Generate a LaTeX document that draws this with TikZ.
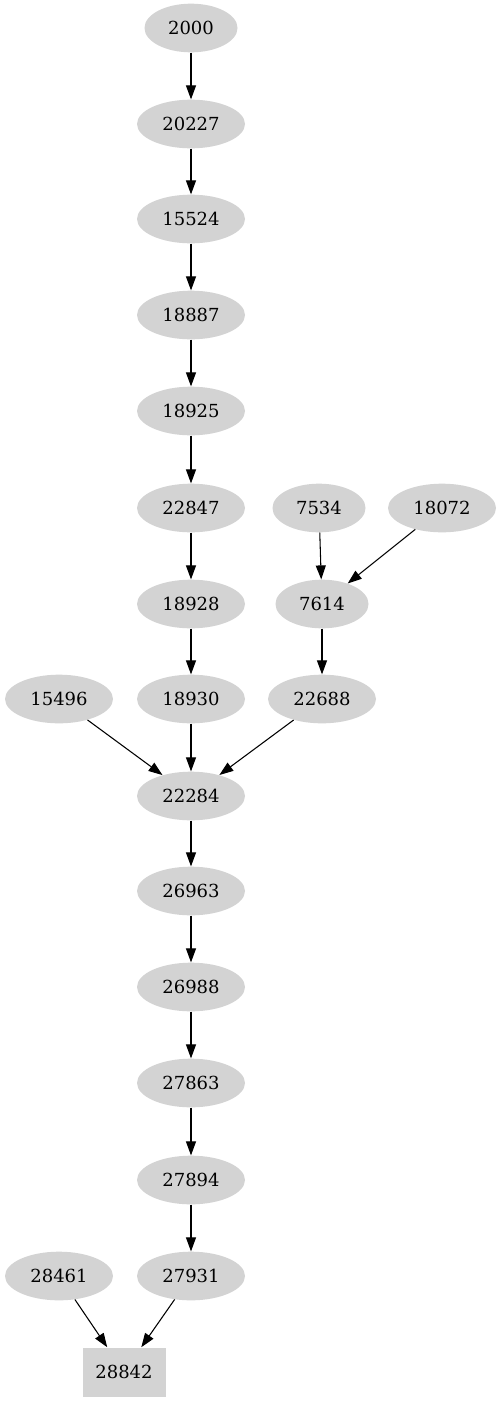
\documentclass[tikz,border=0pt]{standalone}
\usepackage{fontspec}
\setmainfont{DejaVu Serif}
\usepackage{xcolor}
\usepackage{tikz}
\usetikzlibrary{arrows.meta, shapes.geometric}
\definecolor{nodegray}{HTML}{d3d3d3}

\begin{document}
\begin{tikzpicture}[
  x=0.75pt, y=-0.75pt,
  ev/.style={
    ellipse, fill=nodegray, inner sep=0pt,
    minimum width=81pt, minimum height=36.5pt,
    font=\fontsize{13.5}{16}\selectfont},
  evs/.style={ev, minimum width=69.75pt},
  sink/.style={
    rectangle, fill=nodegray, inner sep=0pt,
    minimum width=62.25pt, minimum height=36.75pt,
    font=\fontsize{13.5}{16}\selectfont},
  dep/.style={-{Triangle[length=10.5pt, width=7.5pt]}, thick, black},
]
  \useasboundingbox (0,0) rectangle (502,1403);

  % Main chain
  \node[evs] (n2000) at (191, 28) {2000};
  \node[ev] (n20227) at (191, 124) {20227};
  \node[ev] (n15524) at (191, 219) {15524};
  \node[ev] (n18887) at (191, 315) {18887};
  \node[ev] (n18925) at (191, 411) {18925};
  \node[ev] (n22847) at (191, 508) {22847};
  \node[ev] (n18928) at (191, 604) {18928};
  \node[ev] (n18930) at (191, 699) {18930};
  \node[ev] (n22284) at (191, 796) {22284};
  \node[ev] (n26963) at (191, 891) {26963};
  \node[ev] (n26988) at (191, 987) {26988};
  \node[ev] (n27863) at (191, 1083) {27863};
  \node[ev] (n27894) at (191, 1180) {27894};
  \node[ev] (n27931) at (191, 1276) {27931};
  \node[sink] (n28842) at (124, 1372) {28842};

  % Side branches
  \node[evs] (n7534) at (319, 508) {7534};
  \node[ev] (n18072) at (442, 508) {18072};
  \node[evs] (n7614) at (322, 604) {7614};
  \node[ev] (n22688) at (322, 699) {22688};
  \node[ev] (n15496) at (59, 699) {15496};
  \node[ev] (n28461) at (59, 1276) {28461};

  % Edges
  \draw[dep] (n2000) -- (n20227);
  \draw[dep] (n20227) -- (n15524);
  \draw[dep] (n15524) -- (n18887);
  \draw[dep] (n18887) -- (n18925);
  \draw[dep] (n18925) -- (n22847);
  \draw[dep] (n22847) -- (n18928);
  \draw[dep] (n18928) -- (n18930);
  \draw[dep] (n18930) -- (n22284);
  \draw[dep] (n7534) -- (n7614);
  \draw[dep] (n18072) -- (n7614);
  \draw[dep] (n7614) -- (n22688);
  \draw[dep] (n22688) -- (n22284);
  \draw[dep] (n15496) -- (n22284);
  \draw[dep] (n22284) -- (n26963);
  \draw[dep] (n26963) -- (n26988);
  \draw[dep] (n26988) -- (n27863);
  \draw[dep] (n27863) -- (n27894);
  \draw[dep] (n27894) -- (n27931);
  \draw[dep] (n27931) -- (n28842);
  \draw[dep] (n28461) -- (n28842);
\end{tikzpicture}
\end{document}
